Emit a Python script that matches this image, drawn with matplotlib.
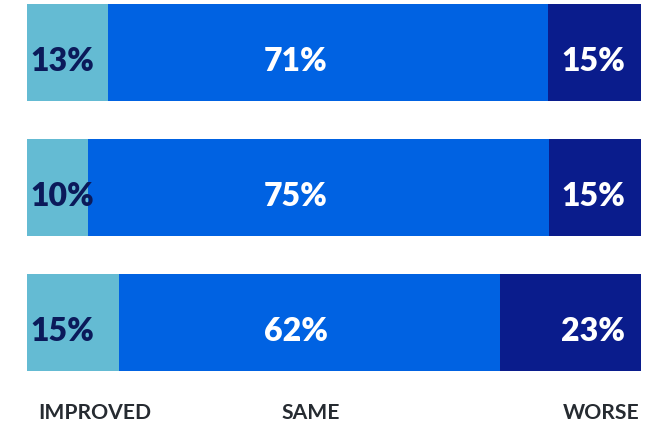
import matplotlib
matplotlib.use("Agg")
import matplotlib.pyplot as plt
import matplotlib.transforms as mtransforms
import numpy as np

# Survey shares per row (percent)
improved = [13, 10, 15]
same = [71, 75, 62]
worse = [15, 15, 23]
categories = ["IMPROVED", "SAME", "WORSE"]

c_improved = "#64BBD3"
c_same = "#0062E2"
c_worse = "#0A1C8C"
c_navy = "#0B1A5A"

W, H = 667, 427
fig = plt.figure(figsize=(W / 100, H / 100), dpi=100)
left, right, top, bottom = 27, 641, 5, 372
ax = fig.add_axes([left / W, 1 - bottom / H, (right - left) / W, (bottom - top) / H])

imp = np.array(improved, float)
sam = np.array(same, float)
wor = np.array(worse, float)
tot = imp + sam + wor
imp_n, sam_n, wor_n = imp / tot, sam / tot, wor / tot
y = np.arange(len(improved))
h = 0.7185

ax.barh(y, imp_n, height=h, color=c_improved, linewidth=0)
ax.barh(y, sam_n, left=imp_n, height=h, color=c_same, linewidth=0)
ax.barh(y, wor_n, left=imp_n + sam_n, height=h, color=c_worse, linewidth=0)

ax.set_xlim(0, 1)
ax.set_ylim(2 + h / 2, -h / 2)
ax.axis("off")

font = "Lato"
fs = 23
# baseline sits a little below the bar's middle
base = ax.get_yaxis_transform() + mtransforms.ScaledTranslation(0, -17.5 / 100, fig.dpi_scale_trans)
for i in range(len(improved)):
    ax.text(0.005, y[i], f"{improved[i]}%", ha="left", va="baseline",
            color=c_navy, fontsize=fs, fontweight="heavy", family=font,
            transform=base)
    ax.text(0.438, y[i], f"{same[i]}%", ha="center", va="baseline",
            color="white", fontsize=fs, fontweight="heavy", family=font,
            transform=base)
    ax.text(0.974, y[i], f"{worse[i]}%", ha="right", va="baseline",
            color="white", fontsize=fs, fontweight="heavy", family=font,
            transform=base)

label_x = [(95 - left) / (right - left), (311 - left) / (right - left), (601 - left) / (right - left)]
label_y = (bottom - 419) / (bottom - top)
for lx, name in zip(label_x, categories):
    ax.text(lx, label_y, name, ha="center", va="baseline", color="#262B31",
            fontsize=15.2, fontweight="bold", family=font,
            transform=ax.transAxes)

fig.savefig("out.png", dpi=100)
